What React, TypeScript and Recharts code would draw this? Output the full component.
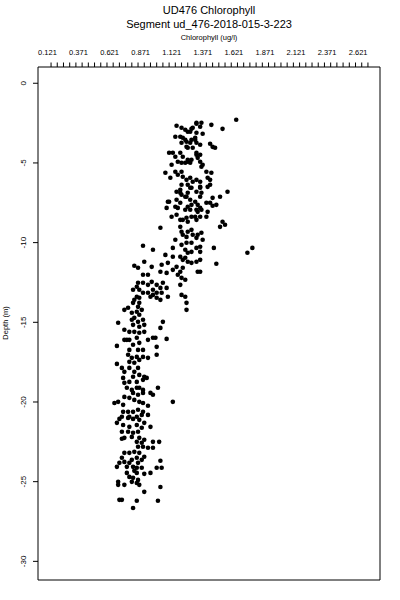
import { ScatterChart, Scatter, XAxis, YAxis } from 'recharts';

const title = 'UD476 Chlorophyll';
const subtitle = 'Segment ud_476-2018-015-3-223';
const xTitle = 'Chlorophyll (ug/l)';
const yTitle = 'Depth (m)';

const xDomain = [0.045, 2.797];
const yDomain = [-31.17, 1.02];

// labelled ticks sit on the odd .121 grid, the little tick marks on the round .05 grid
const xLabelTicks = [0.121, 0.371, 0.621, 0.871, 1.121, 1.371, 1.621, 1.871, 2.121, 2.371, 2.621];
const xMinorTicks = [
  0.15, 0.2, 0.25, 0.3, 0.35, 0.4, 0.45, 0.5, 0.55, 0.6, 0.65, 0.7, 0.75, 0.8, 0.85, 0.9, 0.95,
  1.0, 1.05, 1.1, 1.15, 1.2, 1.25, 1.3, 1.35, 1.4, 1.45, 1.5, 1.55, 1.6, 1.65, 1.7, 1.75, 1.8,
  1.85, 1.9, 1.95, 2.0, 2.05, 2.1, 2.15, 2.2, 2.25, 2.3, 2.35, 2.4, 2.45, 2.5, 2.55, 2.6, 2.65, 2.7,
];
const yTicks = [0, -5, -10, -15, -20, -25, -30];

// [chlorophyll ug/l, depth m]
const readings: [number, number][] = [
  // 2 - 7 m
  [1.64, -2.29], [1.32, -2.48], [1.36, -2.48], [1.35, -2.73], [1.44, -2.61], [1.53, -2.86],
  [1.16, -2.67], [1.2, -2.79], [1.23, -2.92], [1.27, -3.04], [1.29, -2.79], [1.32, -3.11],
  [1.37, -3.17], [1.15, -3.36], [1.21, -3.42], [1.24, -3.67], [1.2, -3.73], [1.28, -3.55],
  [1.31, -3.42], [1.32, -3.73], [1.35, -3.86], [1.29, -4.05], [1.25, -4.05], [1.43, -3.8],
  [1.45, -3.99], [1.47, -4.05], [1.1, -4.36], [1.13, -4.36], [1.15, -4.61], [1.19, -4.36],
  [1.21, -4.61], [1.17, -4.93], [1.2, -4.99], [1.23, -4.99], [1.25, -4.93], [1.28, -4.8],
  [1.32, -4.49], [1.33, -4.68], [1.35, -4.93], [1.37, -5.11], [1.36, -5.24], [1.12, -5.11],
  [1.07, -5.62], [1.11, -5.93], [1.15, -5.55], [1.17, -5.74], [1.2, -5.55], [1.21, -5.87],
  [1.24, -6.06], [1.27, -5.93], [1.29, -6.18], [1.25, -6.37], [1.2, -6.37], [1.4, -5.55],
  [1.44, -5.62], [1.41, -5.93], [1.43, -6.06], [1.35, -6.5], [1.28, -6.56], [1.19, -6.69],
  [1.35, -4.49], [1.27, -3.73], [1.35, -6.18], [1.32, -6.06], [1.24, -3.99], [1.43, -6.37],
  [1.32, -2.54], [1.25, -3.04], [1.28, -2.86], [1.19, -3.36], [1.23, -3.55], [1.31, -3.55],
  [1.32, -4.36], [1.27, -4.99], [1.25, -4.8], [1.35, -6.56],
  // 7 - 11.5 m
  [1.16, -6.81], [1.19, -6.87], [1.25, -6.87], [1.23, -7.12], [1.27, -6.56], [1.36, -6.87],
  [1.41, -6.5], [1.57, -6.81], [1.51, -7.12], [1.45, -7.19], [1.43, -7.5], [1.48, -7.63],
  [1.09, -7.44], [1.08, -7.82], [1.16, -7.31], [1.19, -7.5], [1.17, -7.82], [1.23, -7.94],
  [1.25, -7.75], [1.28, -7.63], [1.31, -7.44], [1.33, -7.63], [1.32, -7.94], [1.35, -7.82],
  [1.12, -8.38], [1.16, -8.25], [1.19, -8.57], [1.28, -8.38], [1.31, -8.38], [1.32, -8.57],
  [1.35, -8.38], [1.4, -8.38], [1.25, -8.69], [1.03, -9.07], [1.19, -9.01], [1.2, -9.32],
  [1.21, -9.51], [1.25, -9.32], [1.28, -9.2], [1.29, -9.51], [1.33, -9.51], [1.32, -9.7],
  [1.36, -9.38], [1.37, -9.82], [1.51, -9.01], [1.53, -8.69], [1.55, -8.88], [1.15, -9.82],
  [1.2, -10.14], [1.24, -10.01], [1.28, -10.01], [0.89, -10.2], [0.97, -10.45], [1.13, -10.33],
  [1.23, -10.45], [1.25, -10.64], [1.28, -10.58], [1.32, -10.33], [1.35, -10.58], [1.46, -10.33],
  [1.73, -10.64], [1.77, -10.33], [1.07, -10.77], [1.13, -10.89], [1.19, -10.89], [1.25, -11.2],
  [1.28, -11.27], [1.32, -11.2], [1.35, -11.08], [1.48, -11.33], [0.82, -11.45], [0.9, -11.2],
  [0.96, -11.52], [1.04, -11.39], [1.09, -11.27], [1.16, -11.52], [1.21, -11.58],
  [1.4, -7.5], [1.41, -8.07], [1.24, -8.44], [1.35, -7.12], [1.32, -6.81], [1.2, -7.0],
  [1.24, -9.64], [1.35, -10.26], [1.21, -11.08], [1.27, -7.31],
  [1.21, -8.57], [1.45, -7.69], [1.24, -7.12], [1.1, -7.44], [1.15, -7.75], [1.27, -7.94],
  [1.33, -8.07], [1.36, -7.94], [1.23, -10.95],
  // 11.5 - 16 m
  [0.89, -12.02], [0.93, -12.02], [0.85, -11.58], [1.03, -11.83], [1.08, -11.9], [1.13, -11.71],
  [1.17, -12.02], [1.19, -11.83], [1.33, -11.83], [1.2, -12.21], [1.23, -12.33], [0.85, -12.52],
  [0.89, -12.52], [0.84, -12.77], [0.81, -12.96], [0.86, -12.96], [0.93, -12.65], [0.96, -12.46],
  [1.0, -12.65], [0.97, -12.96], [1.03, -12.84], [1.05, -12.52], [1.08, -12.84], [1.19, -12.65],
  [0.89, -13.15], [0.93, -13.15], [0.97, -13.28], [1.0, -13.15], [1.04, -13.15], [0.84, -13.4],
  [0.82, -13.59], [0.86, -13.46], [0.95, -13.4], [1.09, -13.4], [1.2, -13.28], [0.81, -13.78],
  [0.85, -14.03], [0.84, -14.34], [0.88, -14.22], [0.74, -14.22], [0.77, -14.09], [0.8, -14.4],
  [0.86, -14.53], [1.03, -13.59], [1.24, -13.78], [1.24, -14.22], [0.8, -14.84], [0.82, -14.72],
  [0.85, -14.97], [0.89, -14.84], [0.81, -15.16], [0.86, -15.28], [0.9, -15.16], [0.69, -15.03],
  [1.05, -14.97], [1.03, -15.35], [0.74, -15.47], [0.78, -15.6], [0.82, -15.6], [0.86, -15.66],
  [0.9, -15.6], [0.76, -16.1], [0.84, -15.97], [0.93, -16.1], [0.97, -15.97], [1.08, -16.04],
  [1.35, -11.83], [0.86, -13.78], [1.0, -13.46], [1.23, -13.4], [0.99, -15.97],
  // 16 - 21 m
  [0.74, -16.1], [0.86, -16.29], [0.81, -16.41], [0.89, -16.73], [0.85, -16.73], [0.78, -16.73],
  [0.68, -16.48], [1.0, -16.54], [1.0, -17.04], [0.93, -17.23], [0.77, -17.04], [0.8, -17.23],
  [0.84, -17.17], [0.86, -17.36], [0.82, -17.54], [0.78, -17.48], [0.89, -17.17], [0.68, -17.61],
  [0.72, -17.86], [0.74, -18.11], [0.78, -17.86], [0.82, -18.11], [0.85, -17.86], [0.86, -18.3],
  [0.81, -18.42], [0.9, -18.42], [0.73, -18.49], [0.74, -18.8], [0.78, -18.74], [0.84, -18.74],
  [0.89, -18.61], [0.76, -19.11], [0.8, -19.24], [0.84, -19.11], [0.89, -19.24], [0.81, -19.43],
  [0.85, -19.55], [1.01, -19.11], [0.95, -19.43], [0.97, -19.55], [0.74, -19.68], [0.78, -19.74],
  [0.82, -19.87], [0.86, -19.99], [1.13, -19.99], [0.66, -20.06], [0.69, -19.99], [0.73, -20.18],
  [0.93, -20.24], [0.73, -20.62], [0.77, -20.62], [0.81, -20.62], [0.85, -20.49], [0.89, -20.62],
  [0.93, -20.81], [0.78, -20.93], [0.84, -20.93], [0.72, -20.93],
  [0.78, -16.1], [0.92, -18.49], [0.86, -19.11], [0.89, -19.43], [0.89, -20.06], [0.88, -20.81],
  // 21 - 27 m
  [0.7, -21.06], [0.86, -21.12], [0.9, -21.31], [0.68, -21.31], [0.73, -21.44], [0.78, -21.56],
  [0.84, -21.44], [0.88, -21.62], [0.95, -21.56], [0.72, -21.87], [0.77, -21.87], [0.81, -21.93],
  [0.85, -21.87], [0.8, -22.19], [0.72, -22.31], [0.86, -22.25], [0.84, -22.5], [0.88, -22.56],
  [0.9, -22.37], [0.85, -22.81], [0.89, -22.81], [0.93, -22.87], [0.97, -22.5], [1.02, -22.5],
  [0.97, -22.87], [0.74, -23.19], [0.78, -23.19], [0.82, -23.13], [0.86, -23.19], [0.9, -23.44],
  [0.72, -23.5], [0.7, -23.82], [0.74, -23.76], [0.8, -23.63], [0.84, -23.5], [0.88, -23.63],
  [0.85, -23.82], [0.68, -24.07], [1.03, -23.69], [0.76, -24.07], [0.81, -24.07], [0.88, -24.13],
  [0.82, -24.32], [1.0, -24.13], [1.04, -24.13], [0.76, -24.45], [0.84, -24.45], [0.9, -24.51],
  [0.95, -24.45], [0.78, -24.7], [0.85, -24.89], [0.69, -25.01], [0.74, -25.2], [0.8, -25.01],
  [0.86, -25.2], [1.03, -25.33], [0.9, -25.64], [0.7, -26.14], [0.72, -26.14], [0.84, -26.2],
  [1.01, -26.2], [0.81, -26.65],
  [0.81, -21.06], [0.77, -21.0], [0.74, -22.25], [0.78, -23.82], [0.84, -24.13], [0.81, -24.76],
  [0.69, -25.2], [0.84, -25.08],
];

const data = readings.map(([chl, depth]) => ({ chl, depth }));

const font = '"Liberation Sans", Arial, Helvetica, sans-serif';

function TopTick(props: any) {
  const { x, y, payload } = props;
  const v = payload.value;
  if (xLabelTicks.includes(v)) {
    return (
      <text x={x} y={y - 12} textAnchor="middle" fontSize={7.5} fontFamily={font} fill="#000">
        {v.toFixed(3)}
      </text>
    );
  }
  return <line x1={x} x2={x} y1={y} y2={y - 4.5} stroke="#000" strokeWidth={1} />;
}

function LeftTick(props: any) {
  const { x, y, payload } = props;
  const cx = x - 7;
  return (
    <text
      x={cx}
      y={y}
      transform={`rotate(-90, ${cx}, ${y})`}
      textAnchor="middle"
      dominantBaseline="central"
      fontSize={8}
      fontFamily={font}
      fill="#000"
    >
      {payload.value}
    </text>
  );
}

export default function App() {
  const head = { position: 'absolute' as const, left: 0, width: 418, textAlign: 'center' as const, color: '#000' };
  return (
    <div style={{ position: 'absolute', left: 0, top: 0, width: 400, height: 600, background: '#fff', fontFamily: font }}>
      <div style={{ ...head, top: 3, fontSize: 11, lineHeight: '14px' }}>{title}</div>
      <div style={{ ...head, top: 17, fontSize: 11, lineHeight: '14px' }}>{subtitle}</div>
      <div style={{ ...head, top: 33, fontSize: 7.5, lineHeight: '10px' }}>{xTitle}</div>
      <div
        style={{
          position: 'absolute',
          left: 6,
          top: 323,
          transform: 'translate(-50%, -50%) rotate(-90deg)',
          fontSize: 7.5,
          whiteSpace: 'nowrap',
          lineHeight: '10px',
          color: '#000',
        }}
      >
        {yTitle}
      </div>
      <ScatterChart width={400} height={600} margin={{ top: 0, right: 0, bottom: 0, left: 0 }}>
        <XAxis
          type="number"
          dataKey="chl"
          orientation="top"
          domain={xDomain}
          allowDataOverflow
          ticks={[...xLabelTicks, ...xMinorTicks]}
          interval={0}
          height={67}
          tickSize={0}
          tickMargin={0}
          tickLine={false}
          axisLine={{ stroke: '#000' }}
          tick={(p: any) => <TopTick {...p} />}
        />
        <XAxis
          xAxisId="bottom"
          type="number"
          orientation="bottom"
          domain={xDomain}
          allowDataOverflow
          height={20}
          tick={false}
          tickLine={false}
          axisLine={{ stroke: '#000' }}
        />
        <YAxis
          type="number"
          dataKey="depth"
          domain={yDomain}
          allowDataOverflow
          ticks={yTicks}
          interval={0}
          width={38}
          tickSize={5}
          tickMargin={2}
          tickLine={{ stroke: '#000' }}
          axisLine={{ stroke: '#000' }}
          tick={(p: any) => <LeftTick {...p} />}
        />
        <YAxis
          yAxisId="right"
          type="number"
          orientation="right"
          domain={yDomain}
          allowDataOverflow
          width={20}
          tick={false}
          tickLine={false}
          axisLine={{ stroke: '#000' }}
        />
        <Scatter
          data={data}
          isAnimationActive={false}
          shape={(p: any) => <circle cx={p.cx} cy={p.cy} r={2.3} fill="#000" />}
        />
      </ScatterChart>
    </div>
  );
}
